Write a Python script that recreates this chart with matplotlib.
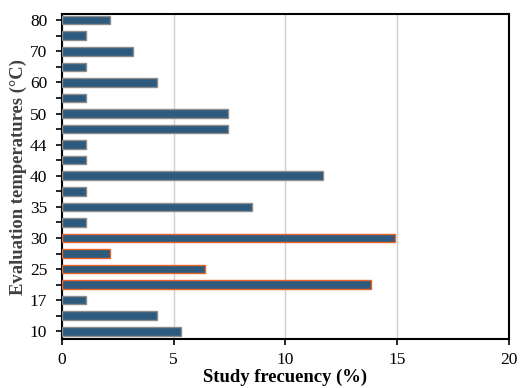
import matplotlib.pyplot as plt
import numpy as np

plt.rcParams['font.family'] = ['Liberation Serif', 'DejaVu Serif']

# temperature groups, bottom to top
temps = ['10', '15', '17', '20', '25', '28', '30', '32', '35', '37', '40',
         '42', '44', '45', '50', '55', '60', '65', '70', '75', '80']
freq = [5.32, 4.26, 1.06, 13.83, 6.38, 2.13, 14.89, 1.06, 8.51, 1.06, 11.70,
        1.06, 1.06, 7.45, 7.45, 1.06, 4.26, 1.06, 3.19, 1.06, 2.13]
# groups outlined in orange
highlight = ['20', '25', '28', '30']

y = np.arange(len(temps))
edges = ['#E8642A' if t in highlight else '#8C8C8C' for t in temps]

fig = plt.figure(figsize=(5.2, 3.88), dpi=100)
ax = fig.add_axes([0.119, 0.126, 0.860, 0.838])

ax.barh(y, freq, height=0.55, color='#2E5A7E', edgecolor=edges, linewidth=1.0, zorder=3)

ax.set_xlim(0, 20)
ax.set_ylim(-0.5, 20.4)
ax.set_xticks([0, 5, 10, 15, 20])
ax.set_yticks(y)
ax.set_yticklabels([t if i % 2 == 0 else '' for i, t in enumerate(temps)])
ax.grid(axis='x', color='#D0D0D0', linewidth=1.0, zorder=0)

for s in ax.spines.values():
    s.set_linewidth(1.5)
    s.set_color('black')
ax.tick_params(axis='both', direction='out', length=4, width=1.2, labelsize=12.5, colors='black')
ax.tick_params(axis='y', pad=6.5)
ax.tick_params(axis='x', pad=5)

ax.set_xlabel('Study frecuency (%)', fontsize=13.4, fontweight='bold', labelpad=1)
ax.set_ylabel('Evaluation temperatures (°C)', fontsize=13.4, fontweight='bold',
              color='#404040', labelpad=2)

fig.savefig('out.png', dpi=100)
